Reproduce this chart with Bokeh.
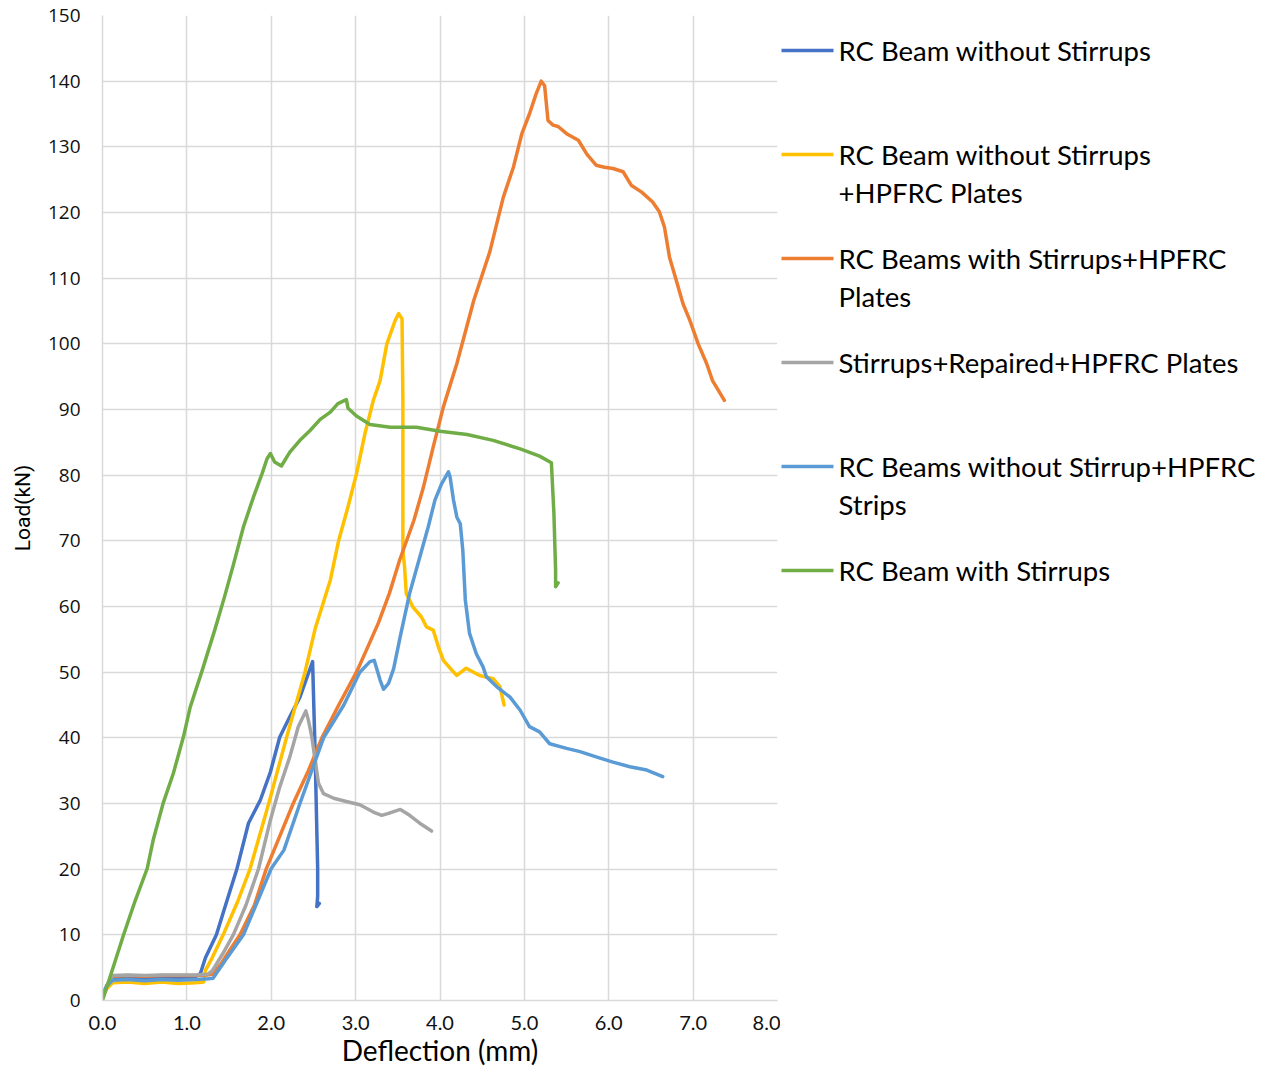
from bokeh.plotting import figure
from bokeh.layouts import row
from bokeh.models import Range1d, FixedTicker, PrintfTickFormatter
from bokeh.core.properties import value
from bokeh.embed import file_html
from bokeh.resources import INLINE

# ---------------- data ----------------
names = [
    "RC Beam without Stirrups",
    "RC Beam without Stirrups +HPFRC Plates",
    "RC Beams with Stirrups+HPFRC Plates",
    "Stirrups+Repaired+HPFRC Plates",
    "RC Beams without Stirrup+HPFRC Strips",
    "RC Beam with Stirrups",
]
legend_text = [
    ["RC Beam without Stirrups"],
    ["RC Beam without Stirrups", "+HPFRC Plates"],
    ["RC Beams with Stirrups+HPFRC", "Plates"],
    ["Stirrups+Repaired+HPFRC Plates"],
    ["RC Beams without Stirrup+HPFRC", "Strips"],
    ["RC Beam with Stirrups"],
]
colors = ["#4472C4", "#FFC000", "#ED7D31", "#A5A5A5", "#5B9BD5", "#70AD47"]

x_ticks = [0, 1, 2, 3, 4, 5, 6, 7, 8]
y_ticks = [0, 10, 20, 30, 40, 50, 60, 70, 80, 90, 100, 110, 120, 130, 140, 150]

nostirrup_x = [0, 0.05, 0.12, 0.3, 0.5, 0.7, 0.9, 1.1, 1.16, 1.22, 1.35, 1.47, 1.59, 1.73, 1.87,
               1.99, 2.10, 2.22, 2.34, 2.44, 2.49, 2.52, 2.55, 2.55, 2.54, 2.57]
nostirrup_y = [0.5, 2.0, 3.4, 3.5, 3.4, 3.5, 3.5, 3.6, 4.1, 6.5, 10.0, 15.0, 19.9, 27.0, 30.5,
               34.8, 40.1, 43.2, 46.2, 49.8, 51.6, 37.6, 20.1, 15.8, 14.3, 14.8]

plates_x = [0, 0.05, 0.12, 0.3, 0.5, 0.7, 0.9, 1.1, 1.2, 1.22, 1.3, 1.43, 1.6, 1.75, 1.97, 2.18,
            2.40, 2.52, 2.70, 2.80, 2.91, 3.01, 3.11, 3.21, 3.29, 3.37, 3.47, 3.51, 3.55, 3.56,
            3.56, 3.58, 3.60, 3.68, 3.78, 3.84, 3.92, 3.98, 4.04, 4.14, 4.20, 4.31, 4.47, 4.63,
            4.71, 4.76]
plates_y = [0.5, 1.8, 2.7, 2.8, 2.6, 2.8, 2.6, 2.7, 2.8, 4.6, 6.5, 10.0, 15.0, 20.1, 30.0, 40.0,
            50.0, 56.6, 64.0, 70.1, 75.2, 80.2, 86.3, 91.4, 94.4, 100.0, 103.6, 104.6, 103.8, 91.4,
            68.6, 66.0, 62.0, 59.9, 58.4, 56.9, 56.4, 53.9, 51.8, 50.3, 49.5, 50.6, 49.5, 49.0,
            47.8, 45.0]

stirrup_plates_x = [0, 0.05, 0.12, 0.3, 0.5, 0.7, 0.9, 1.1, 1.25, 1.3, 1.4, 1.5, 1.63, 1.8, 1.94,
                    2.1, 2.26, 2.44, 2.60, 2.80, 3.01, 3.15, 3.27, 3.40, 3.52, 3.69, 3.80, 3.92,
                    4.04, 4.20, 4.40, 4.59, 4.75, 4.87, 4.97, 5.06, 5.14, 5.20, 5.24, 5.28, 5.34,
                    5.40, 5.50, 5.64, 5.74, 5.85, 5.95, 6.05, 6.17, 6.27, 6.39, 6.52, 6.60, 6.66,
                    6.72, 6.80, 6.88, 6.96, 7.06, 7.16, 7.23, 7.37]
stirrup_plates_y = [0.5, 2.2, 3.7, 3.8, 3.7, 3.8, 3.8, 3.8, 3.9, 4.0, 5.5, 7.5, 10.0, 14.5, 20.0,
                    25.0, 30.0, 35.0, 40.0, 45.0, 50.0, 54.0, 57.5, 62.0, 67.0, 73.1, 78.0, 84.3,
                    90.4, 97.0, 106.6, 114.0, 122.3, 126.9, 132.0, 135.0, 138.1, 140.0, 139.3,
                    134.0, 133.3, 133.1, 132.0, 131.0, 128.9, 127.2, 126.9, 126.7, 126.2, 124.1,
                    123.1, 121.6, 120.1, 117.8, 113.2, 109.7, 106.1, 103.6, 100.0, 97.0, 94.4, 91.4]

repaired_x = [0, 0.05, 0.12, 0.3, 0.5, 0.7, 0.9, 1.1, 1.25, 1.3, 1.42, 1.55, 1.7, 1.85, 1.99,
              2.10, 2.22, 2.32, 2.41, 2.44, 2.48, 2.52, 2.56, 2.62, 2.74, 2.89, 3.05, 3.21,
              3.31, 3.39, 3.53, 3.64, 3.76, 3.90]
repaired_y = [0.5, 2.3, 3.8, 3.9, 3.8, 3.9, 3.9, 3.9, 4.0, 4.5, 7.0, 10.0, 14.5, 20.1, 27.5,
              32.5, 37.1, 41.7, 44.1, 42.7, 40.2, 36.6, 33.1, 31.5, 30.8, 30.3, 29.8, 28.7,
              28.2, 28.5, 29.1, 28.2, 27.0, 25.8]

strips_x = [0, 0.05, 0.12, 0.3, 0.5, 0.7, 0.9, 1.1, 1.25, 1.31, 1.45, 1.67, 1.85, 2.00, 2.15,
            2.34, 2.62, 2.86, 3.05, 3.17, 3.22, 3.29, 3.33, 3.39, 3.45, 3.53, 3.64, 3.76, 3.86,
            3.94, 4.02, 4.10, 4.12, 4.16, 4.20, 4.24, 4.27, 4.30, 4.35, 4.43, 4.51, 4.55, 4.67,
            4.83, 4.95, 5.06, 5.18, 5.30, 5.50, 5.66, 5.85, 6.05, 6.25, 6.45, 6.64]
strips_y = [1.0, 2.2, 3.1, 3.2, 3.0, 3.2, 3.1, 3.2, 3.3, 3.4, 6.0, 10.0, 15.5, 20.1, 22.9,
            30.0, 40.0, 45.0, 50.0, 51.6, 51.8, 48.8, 47.4, 48.3, 50.5, 55.5, 62.0, 67.5, 72.1,
            76.2, 78.7, 80.5, 79.7, 76.2, 73.6, 72.6, 68.6, 61.0, 55.9, 52.8, 50.8, 49.3, 47.8,
            46.2, 44.2, 41.7, 40.9, 39.1, 38.4, 37.9, 37.1, 36.3, 35.6, 35.1, 34.1]

withstirrup_x = [0, 0.1, 0.25, 0.39, 0.53, 0.60, 0.72, 0.84, 0.96, 1.04, 1.18, 1.33, 1.44, 1.55,
                 1.67, 1.79, 1.89, 1.95, 1.99, 2.04, 2.12, 2.22, 2.34, 2.46, 2.58, 2.70, 2.79,
                 2.89, 2.91, 3.01, 3.17, 3.41, 3.72, 4.00, 4.32, 4.63, 4.95, 5.18, 5.32, 5.35,
                 5.37, 5.37, 5.40]
withstirrup_y = [0, 4.0, 10.0, 15.3, 20.1, 24.4, 30.1, 34.6, 40.2, 44.7, 50.2, 56.4, 61.2, 66.3,
                 72.1, 76.7, 80.2, 82.5, 83.3, 82.0, 81.4, 83.5, 85.3, 86.8, 88.5, 89.6, 90.9,
                 91.5, 90.2, 89.0, 87.7, 87.3, 87.3, 86.7, 86.2, 85.3, 84.0, 82.9, 81.9, 74.2,
                 65.5, 63.0, 63.6]

series_x = [nostirrup_x, plates_x, stirrup_plates_x, repaired_x, strips_x, withstirrup_x]
series_y = [nostirrup_y, plates_y, stirrup_plates_y, repaired_y, strips_y, withstirrup_y]

# ---------------- layout constants (pixels) ----------------
W_TOTAL, H_TOTAL = 1261, 1069
FRAME_L, FRAME_R, FRAME_T, FRAME_B = 102, 777, 15, 1000
MAIN_W = FRAME_R + 3

GRID = "#D9D9D9"
p = figure(width=MAIN_W, height=H_TOTAL, x_range=Range1d(0, 8), y_range=Range1d(0, 150),
           output_backend="svg", toolbar_location=None,
           min_border_left=FRAME_L, min_border_right=MAIN_W - FRAME_R,
           min_border_top=FRAME_T, min_border_bottom=H_TOTAL - FRAME_B)
p.outline_line_color = None
p.background_fill_color = "white"
p.border_fill_color = "white"

for xs, ys, c, n in zip(series_x, series_y, colors, names):
    p.line(xs, ys, line_color=c, line_width=3.5, line_join="round", line_cap="round")

p.xaxis.ticker = FixedTicker(ticks=x_ticks)
p.yaxis.ticker = FixedTicker(ticks=y_ticks)
p.xaxis.formatter = PrintfTickFormatter(format="%.1f")
p.yaxis.formatter = PrintfTickFormatter(format="%d")
for ax in (p.xaxis, p.yaxis):
    ax.axis_line_color = GRID
    ax.axis_line_width = 1.5
    ax.major_tick_line_color = None
    ax.minor_tick_line_color = None
    ax.major_label_text_color = "#111111"
    ax.axis_label_text_font_style = "normal"
    ax.axis_label_text_color = "#000000"
p.xaxis.major_label_text_font = "Lato"
p.xaxis.major_label_text_font_size = "20px"
p.xaxis.major_label_standoff = 9
p.yaxis.major_label_text_font = "Open Sans"
p.yaxis.major_label_text_font_size = "19px"
p.yaxis.major_label_standoff = 16
p.xaxis.axis_label = "Deflection (mm)"
p.xaxis.axis_label_text_font = "Lato"
p.xaxis.axis_label_text_font_size = "28px"
p.xaxis.axis_label_standoff = 0
p.yaxis.axis_label = "Load(kN)"
p.yaxis.axis_label_text_font = "Roboto"
p.yaxis.axis_label_text_font_size = "21px"
p.yaxis.axis_label_standoff = 10

p.xgrid.ticker = FixedTicker(ticks=x_ticks)
p.ygrid.ticker = FixedTicker(ticks=y_ticks)
p.grid.grid_line_color = GRID
p.grid.grid_line_width = 1.5

# ---------------- legend panel (frame aligned with the chart frame) ----------------
lp = figure(width=W_TOTAL - MAIN_W, height=H_TOTAL,
            x_range=Range1d(MAIN_W, W_TOTAL), y_range=Range1d(FRAME_B, FRAME_T),
            output_backend="svg", toolbar_location=None, x_axis_type=None, y_axis_type=None,
            min_border_left=0, min_border_right=0,
            min_border_top=FRAME_T, min_border_bottom=H_TOTAL - FRAME_B)
lp.outline_line_color = None
lp.grid.visible = False
lp.border_fill_color = "white"
lp.background_fill_color = "white"

ENTRY_TOP, ENTRY_STEP, LINE_STEP = 50, 104, 38
SWATCH_X0, SWATCH_X1, TEXT_X = 781, 833, 838
for i, (lines, c) in enumerate(zip(legend_text, colors)):
    yy = ENTRY_TOP + ENTRY_STEP * i
    lp.segment(x0=[SWATCH_X0], y0=[yy], x1=[SWATCH_X1], y1=[yy], line_color=c, line_width=3.5)
    lp.text(x=[TEXT_X] * len(lines), y=[yy + LINE_STEP * j for j in range(len(lines))], text=lines,
            text_font=value("Lato"), text_font_size="27.5px", text_baseline="middle",
            text_align="left", text_color="#000000")

layout = row(p, lp)
open("out.html", "w").write(file_html(layout, INLINE))
